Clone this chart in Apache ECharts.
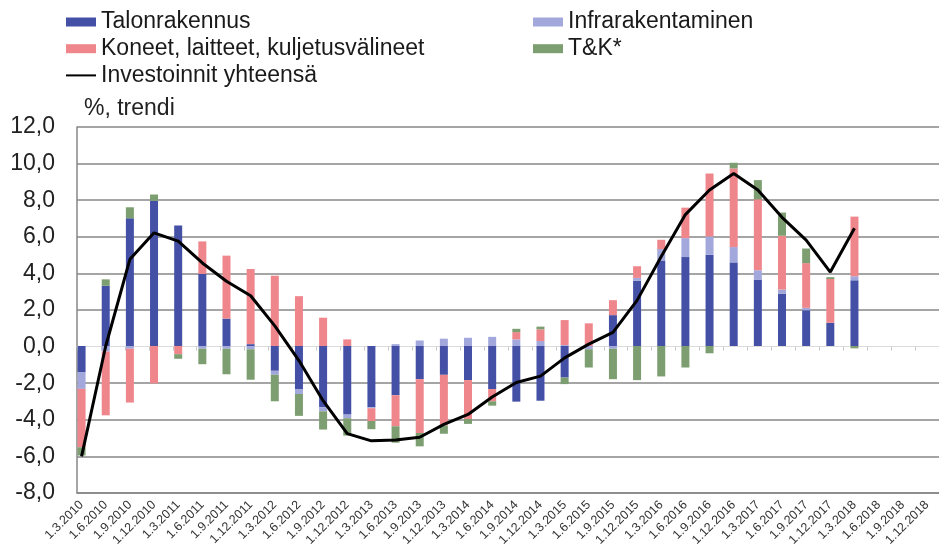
<!DOCTYPE html>
<html>
<head>
<meta charset="utf-8">
<script src="https://cdn.jsdelivr.net/npm/echarts@6/dist/echarts.min.js"></script>
<style>
  html, body { margin: 0; padding: 0; background: #fff; }
  #chart { width: 939px; height: 549px; }
</style>
</head>
<body>
<div id="chart"></div>
<script>
// neljännekset
const categories = [
  '1.3.2010', '1.6.2010', '1.9.2010', '1.12.2010',
  '1.3.2011', '1.6.2011', '1.9.2011', '1.12.2011',
  '1.3.2012', '1.6.2012', '1.9.2012', '1.12.2012',
  '1.3.2013', '1.6.2013', '1.9.2013', '1.12.2013',
  '1.3.2014', '1.6.2014', '1.9.2014', '1.12.2014',
  '1.3.2015', '1.6.2015', '1.9.2015', '1.12.2015',
  '1.3.2016', '1.6.2016', '1.9.2016', '1.12.2016',
  '1.3.2017', '1.6.2017', '1.9.2017', '1.12.2017',
  '1.3.2018', '1.6.2018', '1.9.2018', '1.12.2018'
];

const talonrakennus = [
  -1.45, 3.3, 7.0, 7.95, 6.6, 3.95, 1.5, 0.1,
  -1.36, -2.36, -3.36, -3.76, -3.36, -2.7, -1.82, -1.58,
  -1.87, -2.36, -3.05, -3.0, -1.73, 0, 1.69, 3.58,
  4.69, 4.87, 5.0, 4.58, 3.64, 2.87, 1.96, 1.27,
  3.6, null, null, null
];

const infrarakentaminen = [
  -0.9, -0.3, -0.15, 0, 0, -0.15, -0.15, -0.18,
  -0.22, -0.27, -0.22, -0.2, -0.05, 0.1, 0.3, 0.4,
  0.45, 0.5, 0.36, 0.27, 0.05, -0.18, -0.15, 0.15,
  0.62, 1.04, 1.0, 0.84, 0.51, 0.22, 0.13, 0,
  0.22, null, null, null
];

const koneet = [
  -3.2, -3.5, -2.95, -2.05, -0.45, 1.78, 3.45, 4.12,
  3.85, 2.73, 1.55, 0.36, -0.7, -1.7, -2.95, -2.78,
  -2.13, -0.67, 0.4, 0.64, 1.37, 1.24, 0.82, 0.64,
  0.51, 1.67, 3.45, 4.31, 3.89, 2.95, 2.45, 2.4,
  3.27, null, null, null
];

const tk = [
  -0.45, 0.35, 0.6, 0.35, -0.25, -0.85, -1.4, -1.67,
  -1.45, -1.2, -1.0, -0.95, -0.45, -0.9, -0.73, -0.45,
  -0.27, -0.24, 0.18, 0.15, -0.36, -1.0, -1.67, -1.87,
  -1.67, -1.18, -0.4, 0.31, 1.05, 1.27, 0.8, 0.1,
  -0.13, null, null, null
];

const yhteensa = [
  -6.05, 0.0, 4.75, 6.2, 5.75, 4.55, 3.55, 2.75,
  1.1, -0.8, -3.0, -4.8, -5.2, -5.15, -5.0, -4.3,
  -3.75, -2.8, -2.0, -1.65, -0.65, 0.1, 0.75, 2.5,
  4.9, 7.2, 8.55, 9.45, 8.55, 7.05, 5.8, 4.05,
  6.45, null, null, null
];

const chart = echarts.init(document.getElementById('chart'));

const font = 'Liberation Sans, Arial, sans-serif';
const gridColor = '#878787';
const bandWidth = 24.55;

const option = {
  animation: false,
  backgroundColor: '#fff',
  title: {
    text: '%, trendi',
    left: 84,
    top: 97,
    padding: 0,
    textStyle: { fontFamily: font, fontSize: 23, fontWeight: 'normal', color: '#222' }
  },
  legend: [
    {
      orient: 'vertical',
      left: 60,
      top: 4,
      itemWidth: 30,
      itemHeight: 9,
      itemGap: 0.7,
      textStyle: { fontFamily: font, fontSize: 23, color: '#1a1a1a', lineHeight: 26 },
      data: [
        { name: 'Talonrakennus', icon: 'rect' },
        { name: 'Koneet, laitteet, kuljetusvälineet', icon: 'rect' },
        { name: 'Investoinnit yhteensä', itemStyle: { opacity: 0 } }
      ]
    },
    {
      orient: 'vertical',
      left: 528,
      top: 4,
      itemWidth: 30,
      itemHeight: 9,
      itemGap: 0.7,
      textStyle: { fontFamily: font, fontSize: 23, color: '#1a1a1a', lineHeight: 26 },
      data: [
        { name: 'Infrarakentaminen', icon: 'rect' },
        { name: 'T&K*', icon: 'rect' }
      ]
    }
  ],
  grid: [
    // kehys ja akselit
    { left: 77, top: 127, bottom: 56, width: bandWidth * 36 },
    // pylväät ja viiva (hieman vasemmalle kuten alkuperäisessä)
    { left: 69.5, top: 127, bottom: 56, width: bandWidth * 36 }
  ],
  xAxis: [
    {
      gridIndex: 0,
      type: 'category',
      data: categories,
      position: 'bottom',
      axisLine: { onZero: false, lineStyle: { color: gridColor, width: 1.5 } },
      axisTick: { show: false },
      axisLabel: { show: false }
    },
    {
      gridIndex: 0,
      type: 'category',
      data: categories,
      position: 'top',
      axisLine: { onZero: true, lineStyle: { color: '#dcdcdc', width: 1.2 } },
      axisTick: { show: true, inside: true, interval: 0, length: 4, lineStyle: { color: '#c8c8c8' } },
      axisLabel: { show: false }
    },
    {
      gridIndex: 1,
      type: 'category',
      data: categories,
      axisLine: { show: false },
      axisTick: { show: false },
      axisLabel: {
        interval: 0,
        rotate: 45,
        margin: 11,
        fontFamily: font,
        fontSize: 12.5,
        color: '#333'
      }
    }
  ],
  yAxis: [
    {
      gridIndex: 0,
      type: 'value',
      min: -8,
      max: 12,
      interval: 2,
      axisLine: { show: true, lineStyle: { color: gridColor, width: 1.5 } },
      axisTick: { show: false },
      axisLabel: {
        margin: 22,
        fontFamily: font,
        fontSize: 23,
        color: '#222',
        formatter: v => v.toFixed(1).replace('.', ',')
      },
      splitLine: {
        show: true,
        lineStyle: {
          width: 1.5,
          color: [gridColor, gridColor, gridColor, gridColor, 'rgba(0,0,0,0)',
            gridColor, gridColor, gridColor, gridColor, gridColor, gridColor]
        }
      }
    },
    {
      gridIndex: 1,
      type: 'value',
      min: -8,
      max: 12,
      interval: 2,
      show: false,
      splitLine: { show: false }
    }
  ],
  series: [
    {
      name: 'Talonrakennus',
      type: 'bar',
      stack: 'total',
      xAxisIndex: 2,
      yAxisIndex: 1,
      barWidth: 8,
      itemStyle: { color: '#4450a6' },
      data: talonrakennus
    },
    {
      name: 'Infrarakentaminen',
      type: 'bar',
      stack: 'total',
      xAxisIndex: 2,
      yAxisIndex: 1,
      barWidth: 8,
      itemStyle: { color: '#a3a8dc' },
      data: infrarakentaminen
    },
    {
      name: 'Koneet, laitteet, kuljetusvälineet',
      type: 'bar',
      stack: 'total',
      xAxisIndex: 2,
      yAxisIndex: 1,
      barWidth: 8,
      itemStyle: { color: '#ee868c' },
      data: koneet
    },
    {
      name: 'T&K*',
      type: 'bar',
      stack: 'total',
      xAxisIndex: 2,
      yAxisIndex: 1,
      barWidth: 8,
      itemStyle: { color: '#7d9e70' },
      data: tk
    },
    {
      name: 'Investoinnit yhteensä',
      type: 'line',
      xAxisIndex: 2,
      yAxisIndex: 1,
      symbol: 'none',
      showSymbol: false,
      z: 5,
      lineStyle: { color: '#000', width: 3 },
      itemStyle: { color: '#000' },
      data: yhteensa
    }
  ]
};

chart.setOption(option);
</script>
</body>
</html>
